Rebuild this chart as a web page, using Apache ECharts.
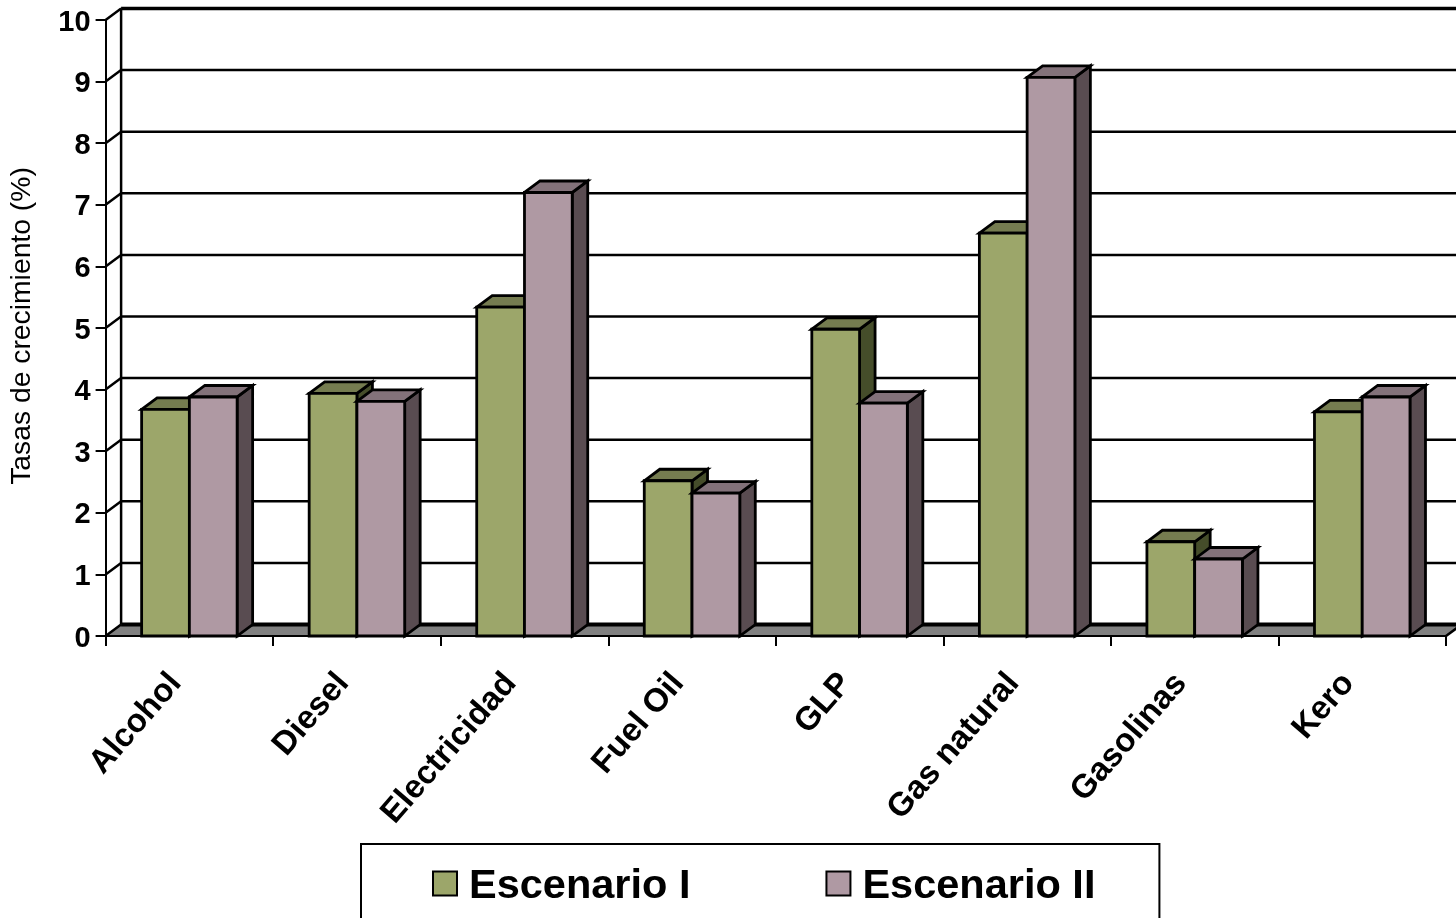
<!DOCTYPE html>
<html>
<head>
<meta charset="utf-8">
<style>html,body{margin:0;padding:0;background:#fff;overflow:hidden}#c{width:1456px;height:918px}</style>
<script src="https://cdn.jsdelivr.net/npm/echarts@6/dist/echarts.min.js"></script>
</head>
<body>
<div id="c"></div>
<script>
var categories = ['Alcohol','Diesel','Electricidad','Fuel Oil','GLP','Gas natural','Gasolinas','Kero'];
var escenarioI  = [3.68,3.94,5.34,2.52,4.98,6.54,1.53,3.64];
var escenarioII = [3.88,3.81,7.20,2.32,3.78,9.07,1.25,3.88];
var yTicks = [0,1,2,3,4,5,6,7,8,9,10];

var DX = 15.5, DY = 11.5, BAR = 0.285;
var FONT = '"Liberation Sans", Arial, sans-serif';
var chart = echarts.init(document.getElementById('c'), null, {renderer:'canvas'});

function poly(points, fill, lw){
  return {type:'polygon', shape:{points:points}, style:{fill:fill, stroke:'#000', lineWidth:lw||2.8, lineJoin:'miter'}};
}
function seg(x1,y1,x2,y2,lw){
  return {type:'line', shape:{x1:x1,y1:y1,x2:x2,y2:y2}, style:{stroke:'#000', lineWidth:lw||2, fill:null}};
}
function bar3d(dir, front, top, side){
  return function(params, api){
    var p = api.coord([api.value(0), api.value(1)]);
    var b = api.coord([api.value(0), 0]);
    var w = api.size([1,0])[0] * BAR;
    var x0 = dir < 0 ? p[0]-w : p[0], x1 = x0 + w, yt = p[1], yb = b[1];
    return {type:'group', children:[
      poly([[x1,yt],[x1+DX,yt-DY],[x1+DX,yb-DY],[x1,yb]], side),
      poly([[x0,yt],[x0+DX,yt-DY],[x1+DX,yt-DY],[x1,yt]], top),
      poly([[x0,yt],[x1,yt],[x1,yb],[x0,yb]], front)
    ]};
  };
}
function wall(params, api){
  var v = api.value(0), cs = params.coordSys;
  var p = api.coord([0, v]);
  var xa = cs.x, xb = cs.x + cs.width, y = p[1];
  var kids = [];
  if (v === 0) {
    kids.push({type:'polygon', shape:{points:[[xa,y],[xa+DX,y-DY],[xb+DX,y-DY],[xb,y]]},
      style:{fill:'#808080', stroke:null}});
    kids.push(seg(xa+DX,y-DY,xb+DX,y-DY,4));
    kids.push(seg(xb,y,xb+DX,y-DY,2.5));
    kids.push(seg(xa+DX,y-DY,xa+DX,cs.y-DY,2.5));
  } else {
    kids.push(seg(xa+DX,y-DY,xb+DX,y-DY, v===10?3.5:2.5));
  }
  kids.push(seg(xa,y,xa+DX,y-DY,2.5));
  return {type:'group', children:kids};
}
var seriesRows = function(a){ return a.map(function(v,i){ return [i,v]; }); };

chart.setOption({
  animation:false,
  backgroundColor:'#fff',
  grid:{left:105.6, top:20, width:1340.4, height:616, containLabel:false},
  legend:{
    left:361, top:844,
    padding:[22,64,40,71],
    borderColor:'#000', borderWidth:2, borderRadius:0,
    itemWidth:24, itemHeight:24, itemGap:135,
    icon:'rect',
    data:[
      {name:'Escenario I', icon:'rect', itemStyle:{color:'#9CA66A',borderColor:'#000',borderWidth:2}},
      {name:'Escenario II', icon:'rect', itemStyle:{color:'#AF99A3',borderColor:'#000',borderWidth:2}}
    ],
    formatter:'{a|{name}}',
    textStyle:{color:'#000',rich:{a:{fontFamily:FONT,fontWeight:'bold',fontSize:41.5,color:'#000',padding:[7,0,0,7]}}}
  },
  xAxis:{
    type:'category', data:categories, z:5,
    boundaryGap:true,
    axisLine:{show:true,lineStyle:{color:'#000',width:2}},
    axisTick:{show:true,length:10,alignWithLabel:false,lineStyle:{color:'#000',width:2}},
    axisLabel:{rotate:49,interval:0,margin:26,padding:[0,21,0,0],fontFamily:FONT,fontWeight:'bold',fontSize:33,color:'#000'},
    splitLine:{show:false}
  },
  yAxis:{
    type:'value', min:0, max:10, interval:1, z:5,
    name:'Tasas de crecimiento (%)', nameLocation:'middle', nameRotate:90, nameGap:69,
    nameTextStyle:{fontFamily:FONT,fontSize:28.3,color:'#000',padding:[0,0,0,4]},
    axisLine:{show:true,lineStyle:{color:'#000',width:2}},
    axisTick:{show:true,length:10,lineStyle:{color:'#000',width:2}},
    axisLabel:{margin:15,formatter:'{a|{value}}',rich:{a:{padding:[5,0,0,0],fontFamily:FONT,fontWeight:'bold',fontSize:29,color:'#000'}}},
    splitLine:{show:false}
  },
  series:[
    {type:'custom', name:'wall', z:1, silent:true, renderItem:wall,
     data:yTicks.map(function(t){return [t];}), encode:{y:0}},
    {type:'custom', name:'Escenario I', z:2, renderItem:bar3d(-1,'#9CA66A','#757C50','#454D2A'),
     data:seriesRows(escenarioI), encode:{x:0,y:1}},
    {type:'custom', name:'Escenario II', z:3, renderItem:bar3d(1,'#AF99A3','#83727A','#594C51'),
     data:seriesRows(escenarioII), encode:{x:0,y:1}}
  ]
});
</script>
</body>
</html>
